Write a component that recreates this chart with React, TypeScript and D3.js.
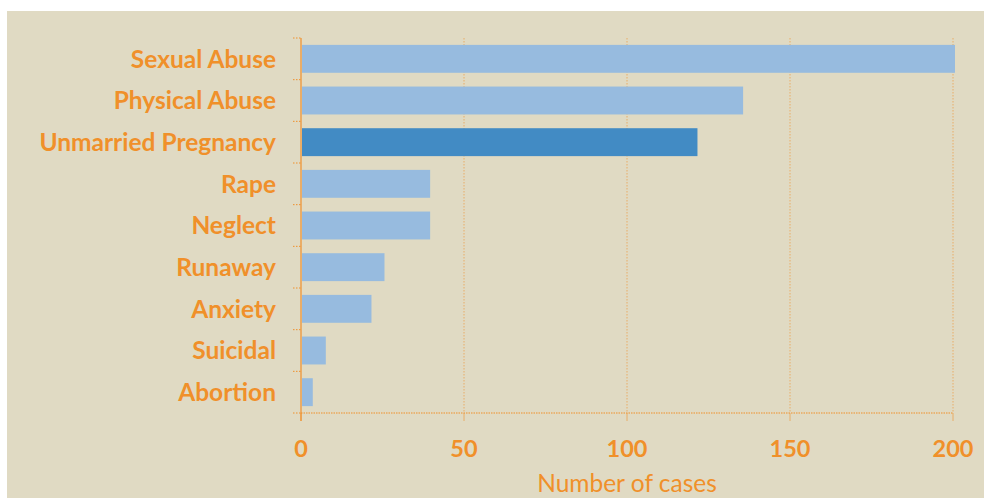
import React from "react";
import * as d3 from "d3";

const categories = ["Sexual Abuse", "Physical Abuse", "Unmarried Pregnancy", "Rape", "Neglect", "Runaway", "Anxiety", "Suicidal", "Abortion"];
const values = [200, 135, 121, 39, 39, 25, 21, 7, 3];
const highlighted = ["Unmarried Pregnancy"];
const xTicks = [0, 50, 100, 150, 200];
const xTitle = "Number of cases";

const W = 984, H = 498;
const orange = "#f0902a";
const font = "Lato, 'Open Sans', sans-serif";

export default function App() {
  const x = d3.scaleLinear().domain([0, 200]).range([301, 953]);
  const y = d3.scaleBand().domain(categories).range([38, 413]).paddingInner(0.33).paddingOuter(0.165);
  const step = y.step();
  const top = 38, bottom = 413;
  return (
    <svg width={W} height={H} style={{ position: "absolute", left: 0, top: 0 }}>
      <rect x={7} y={11} width={W - 7} height={H - 11} fill="#e0dac3" />
      {xTicks.map((t) => (
        <g key={t}>
          {t > 0 && (
            <line x1={x(t)} x2={x(t)} y1={top} y2={bottom} stroke={orange} strokeOpacity={0.6} strokeWidth={1} strokeDasharray="1.5,1.5" />
          )}
          <line x1={x(t)} x2={x(t)} y1={bottom} y2={bottom + 8} stroke={orange} strokeOpacity={0.6} strokeWidth={1} />
          <text x={x(t)} y={457} textAnchor="middle" fill={orange} fontFamily={font} fontWeight={700} fontSize={23.5}>{t}</text>
        </g>
      ))}
      {categories.map((c, i) => (
        <rect key={c} x={x(0) + 1} y={y(c)} width={x(values[i]) - x(0) + 1} height={y.bandwidth()}
          fill={highlighted.includes(c) ? "#428bc4" : "#97bbdf"} />
      ))}
      {d3.range(categories.length + 1).map((k) => (
        <line key={k} x1={293} x2={301} y1={top + k * step} y2={top + k * step} stroke={orange} strokeWidth={1} strokeDasharray="1.5,1.5" />
      ))}
      <line x1={301} x2={953} y1={bottom} y2={bottom} stroke={orange} strokeWidth={1.2} strokeDasharray="1.5,1" />
      <line x1={301} x2={301} y1={top} y2={bottom + 8} stroke={orange} strokeOpacity={0.8} strokeWidth={1.5} />
      {categories.map((c) => (
        <text key={c} x={276} y={(y(c) as number) + y.bandwidth() / 2} dy="0.36em" textAnchor="end" fill={orange} fontFamily={font} fontWeight={700} fontSize={24.5}>{c}</text>
      ))}
      <text x={x(100)} y={492} textAnchor="middle" fill={orange} fontFamily={font} fontSize={24.5}>{xTitle}</text>
    </svg>
  );
}
